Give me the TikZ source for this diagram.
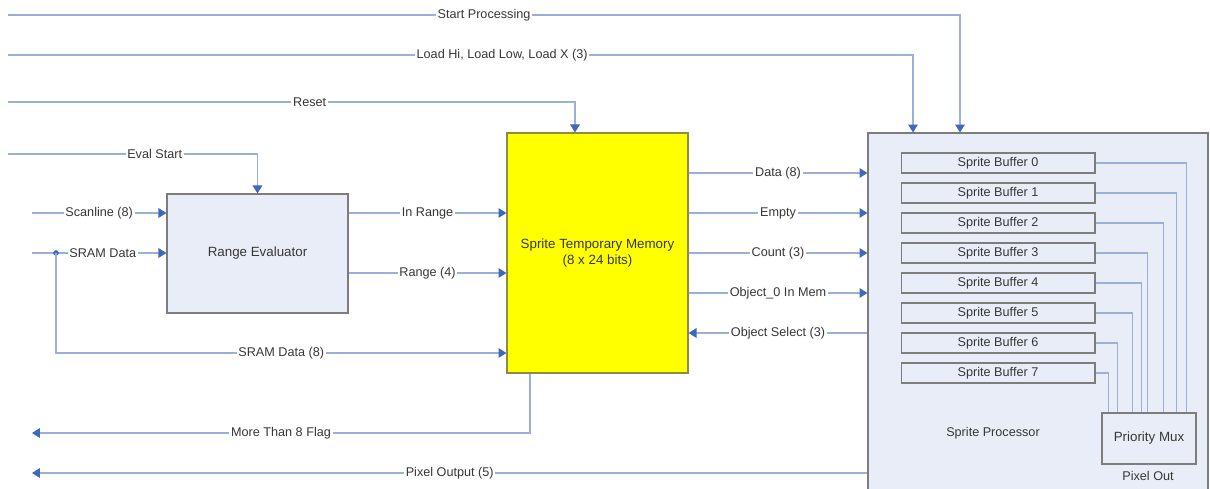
\documentclass[tikz,border=0pt]{standalone}
\usepackage{fontspec}
\setmainfont{Liberation Sans}
\usetikzlibrary{arrows.meta,positioning}
\definecolor{wireblue}{RGB}{155,175,215}
\definecolor{tipblue}{RGB}{60,105,190}
\definecolor{boxgray}{RGB}{125,125,125}
\definecolor{panefill}{RGB}{232,237,247}
\definecolor{memyellow}{RGB}{255,255,0}
\definecolor{memedge}{RGB}{140,140,70}
\definecolor{labeltext}{RGB}{55,55,55}

\begin{document}
\begin{tikzpicture}[x=0.02cm, y=-0.02cm,
  font=\fontsize{7.2}{8.6}\selectfont, text=labeltext,
  blk/.style={draw=boxgray, fill=panefill, line width=0.7pt, inner sep=0pt,
    align=center, font=\fontsize{7.6}{9}\selectfont},
  bufbox/.style={draw=boxgray, fill=panefill, line width=0.6pt,
    minimum width=3.88cm, minimum height=0.4cm, inner sep=0pt},
  wire/.style={draw=wireblue, line width=0.6pt},
  sig/.style={wire, -{Triangle[length=4.5pt, width=5.5pt, color=tipblue]}},
  lbl/.style={fill=white, inner sep=1pt},
]
  \useasboundingbox (0,0) rectangle (1210,489);

  % Blocks
  \node[blk, minimum width=6.8cm, minimum height=7.24cm] (sproc) at (1038,314) {};
  \node (sproclbl) at (993,433) {Sprite Processor};
  \node[blk, minimum width=3.62cm, minimum height=2.38cm] (rangeeval)
    at (257.5,253.5) {Range Evaluator};
  \node[blk, draw=memedge, fill=memyellow, minimum width=3.62cm,
    minimum height=4.8cm] (stmem) at (597.5,253)
    {Sprite Temporary Memory\\(8 x 24 bits)};

  % Sprite buffers and mux
  \foreach \i in {0,...,7}
    \node[bufbox] (buf\i) at (998,{163+30*\i}) {Sprite Buffer \i};
  \node[blk, minimum width=1.88cm, minimum height=1.02cm] (mux)
    at (1149,438.5) {Priority Mux};
  \foreach \i/\dx in {0/1.7, 1/1.5, 2/1.24, 3/0.92, 4/0.8, 5/0.62, 6/0.32, 7/0.14}
    \draw[wire] (buf\i.east) -| ([xshift=\dx cm]mux.north west);
  \node (pixout) at (1148,476) {Pixel Out};
  \draw[wire] (mux.south) -- (pixout.north);

  % Free ends on the left
  \coordinate (startin) at (8,15);
  \coordinate (loadin) at (8,55);
  \coordinate (rstin) at (8,102);
  \coordinate (evin) at (8,154);
  \coordinate (scanin) at (32,213);
  \coordinate (sramin) at (32,253);
  \coordinate (sramdot) at (56,253);
  \coordinate (flagout) at (32,433);
  \coordinate (pixoutl) at (32,473);

  % Control inputs
  \draw[sig] (startin) -| (sproc.north -| 960,0)
    node[lbl, pos=0.25] {Start Processing};
  \draw[sig] (loadin) -| (sproc.north -| 913,0)
    node[lbl, pos=0.273] {Load Hi, Load Low, Load X (3)};
  \draw[sig] (rstin) -| (stmem.north -| 575,0)
    node[lbl, pos=0.266] {Reset};
  \draw[sig] (evin) -| (rangeeval.north)
    node[lbl, pos=0.294] {Eval Start};

  % Range evaluator
  \draw[sig] (scanin) -- (rangeeval.west |- scanin)
    node[lbl, midway] {Scanline (8)};
  \draw[sig] (sramin) -- (rangeeval.west |- sramin)
    node[lbl, midway, xshift=2pt] {SRAM Data};
  \fill[tipblue] (sramdot) circle (1.6pt);
  \draw[sig] (sramdot) |- (stmem.west |- 0,353)
    node[lbl, pos=0.75] {SRAM Data (8)};
  \draw[sig] (rangeeval.east |- 0,213) -- (stmem.west |- 0,213)
    node[lbl, midway] {In Range};
  \draw[sig] (rangeeval.east |- 0,273) -- (stmem.west |- 0,273)
    node[lbl, midway] {Range (4)};

  % Memory to processor
  \foreach \yy/\txt in {173/Data (8), 213/Empty, 253/Count (3), 293/Object\_0 In Mem}
    \draw[sig] (stmem.east |- 0,\yy) -- (sproc.west |- 0,\yy)
      node[lbl, midway] {\txt};
  \draw[sig] (sproc.west |- 0,333) -- (stmem.east |- 0,333)
    node[lbl, midway] {Object Select (3)};

  % Outputs
  \draw[sig] (stmem.south -| 530,0) |- (flagout)
    node[lbl, pos=0.75] {More Than 8 Flag};
  \draw[sig] (sproc.west |- pixoutl) -- (pixoutl)
    node[lbl, midway] {Pixel Output (5)};
\end{tikzpicture}
\end{document}
